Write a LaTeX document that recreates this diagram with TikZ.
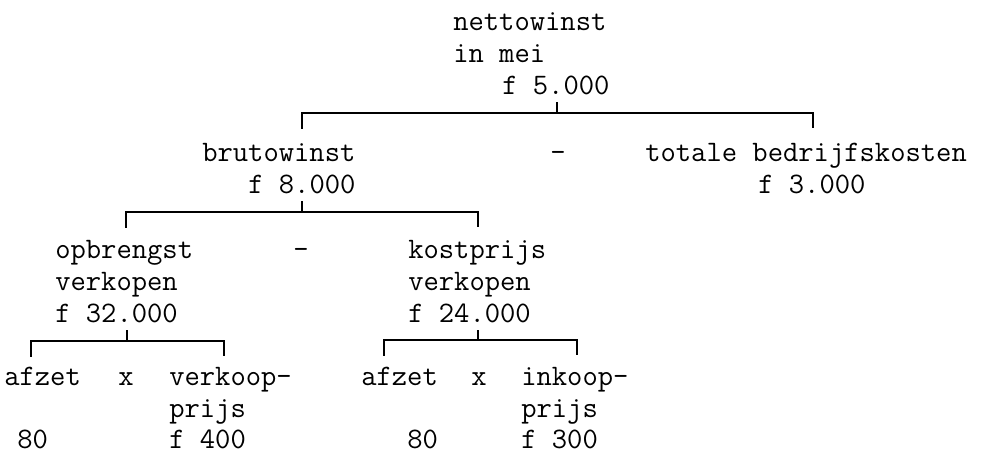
\documentclass[tikz,border=0pt]{standalone}
\usepackage{fontspec}
\usepackage{tikz}

\begin{document}
\begin{tikzpicture}[x=0.75pt,y=-0.75pt]
\tikzstyle{txt}=[anchor=base west,inner sep=0pt,font=\fontsize{22.3}{26}\selectfont\ttfamily]
\tikzstyle{bracket}=[line width=1.8pt]
\useasboundingbox (0,0) rectangle (983,456);

% nettowinst
\node[txt] (netto) at (453,31) {nettowinst};
\node[txt] (mei) at (453,63) {in mei};
\node[txt] (nettof) at (502,95) {f 5.000};

% brutowinst - bedrijfskosten
\node[txt] (bruto) at (202,162) {brutowinst};
\node[txt] (brutof) at (248,194) {f 8.000};
\node[txt,anchor=base] (min1) at (558,162) {-};
\node[txt] (kosten) at (645,162) {totale bedrijfskosten};
\node[txt] (kostenf) at (758,194) {f 3.000};

% opbrengst - kostprijs
\node[txt] (opbr) at (55,259) {opbrengst};
\node[txt] (opbrv) at (55,291) {verkopen};
\node[txt] (opbrf) at (55,323) {f 32.000};
\node[txt,anchor=base] (min2) at (301,259) {-};
\node[txt] (kprijs) at (408,259) {kostprijs};
\node[txt] (kprijsv) at (408,291) {verkopen};
\node[txt] (kprijsf) at (408,323) {f 24.000};

% afzet x verkoopprijs
\node[txt] (afzet1) at (4,386) {afzet};
\node[txt,anchor=base] (maal1) at (126,386) {x};
\node[txt] (vprijs) at (169,386) {verkoop-};
\node[txt] (vprijs2) at (169,417) {prijs};
\node[txt] (afzet1n) at (17,448) {80};
\node[txt] (vprijsf) at (169,448) {f 400};

% afzet x inkoopprijs
\node[txt] (afzet2) at (361,386) {afzet};
\node[txt,anchor=base] (maal2) at (479,386) {x};
\node[txt] (iprijs) at (521,386) {inkoop-};
\node[txt] (iprijs2) at (521,417) {prijs};
\node[txt] (afzet2n) at (407,448) {80};
\node[txt] (iprijsf) at (521,448) {f 300};

% brackets
\coordinate (s1) at (557,113);
\coordinate (l1) at (302,129);
\coordinate (r1) at (813,128);
\draw[bracket,shorten <=5pt] (nettof.south -| s1) -- (s1);
\draw[bracket] (l1) |- (s1) -| (r1);

\coordinate (s2) at (302,212);
\coordinate (l2) at (126,228);
\coordinate (r2) at (478,227);
\draw[bracket,shorten <=5pt] (brutof.south -| s2) -- (s2);
\draw[bracket] (l2) |- (s2) -| (r2);

\coordinate (s3) at (127,341);
\coordinate (l3) at (31,357);
\coordinate (r3) at (224,356);
\draw[bracket,shorten <=5pt] (opbrf.south -| s3) -- (s3);
\draw[bracket] (l3) |- (s3) -| (r3);

\coordinate (s4) at (478,340);
\coordinate (l4) at (384,356);
\coordinate (r4) at (577,355);
\draw[bracket,shorten <=5pt] (kprijsf.south -| s4) -- (s4);
\draw[bracket] (l4) |- (s4) -| (r4);
\end{tikzpicture}
\end{document}
